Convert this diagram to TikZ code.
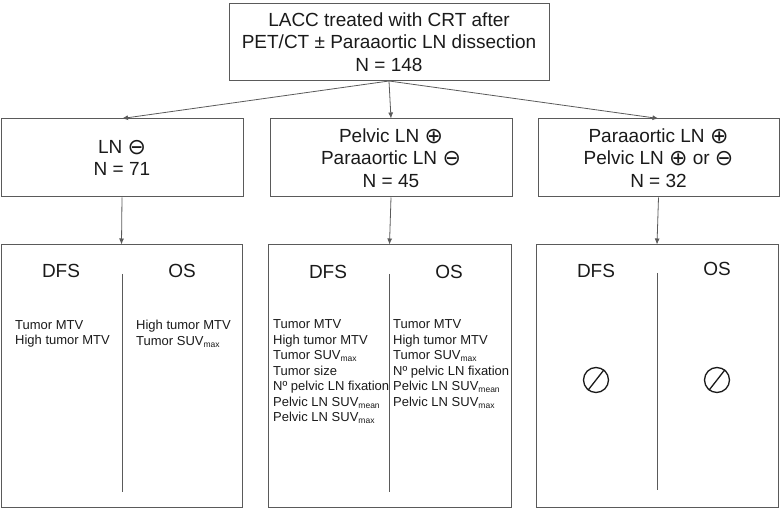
\documentclass[tikz,border=0pt]{standalone}
\usepackage{fontspec}
\setmainfont{Liberation Sans}
\newfontfamily\symfont{DejaVu Sans}
\usetikzlibrary{arrows.meta}
\definecolor{linec}{HTML}{5A5A5A}
\definecolor{textc}{HTML}{1A1A1A}
\newcommand\subs[1]{\raisebox{-0.3ex}{\fontsize{8.5}{8.5}\selectfont #1}}
\newcommand\cplus{\raisebox{-1pt}{\symfont\fontsize{22}{22}\selectfont ⊕}}
\newcommand\cminus{\raisebox{-1pt}{\symfont\fontsize{22}{22}\selectfont ⊖}}
\tikzset{
  box/.style={draw=linec, line width=1pt, align=center, text=textc, inner sep=0pt,
    font=\fontsize{19}{22.5}\selectfont},
  arr/.style={draw=linec, line width=0.8pt, -{Latex[length=6pt,width=5pt]}},
  divider/.style={draw=linec, line width=0.9pt},
  head/.style={anchor=base, text=textc, inner sep=0pt, font=\fontsize{19}{22}\selectfont},
  items/.style={anchor=north west, align=left, text=textc, inner sep=0pt,
    font=\fontsize{13}{15.5}\selectfont},
  nullset/.style={draw=textc, circle, line width=1.3pt, minimum size=25pt, inner sep=0pt}
}
\begin{document}
\begin{tikzpicture}[x=1pt,y=-1pt]
\useasboundingbox (0,0) rectangle (780,510);
% top box
\node[box, minimum width=320pt, minimum height=77pt] (top) at (389,42)
  {LACC treated with CRT after\\PET/CT ± Paraaortic LN dissection\\N = 148};
% row 2
\node[box, minimum width=242pt, minimum height=78pt] (ra) at (122,158)
  {LN \cminus\\N = 71};
\node[box, minimum width=242pt, minimum height=78pt] (rb) at (391,158)
  {Pelvic LN \cplus\\Paraaortic LN \cminus\\N = 45};
\node[box, minimum width=241pt, minimum height=78pt] (rc) at (658.5,158)
  {Paraaortic LN \cplus\\Pelvic LN \cplus{} or \cminus\\N = 32};
% row 3
\node[box, minimum width=241pt, minimum height=263pt] (sa) at (121.5,376.5) {};
\node[box, minimum width=243pt, minimum height=263pt] (sb) at (389.5,376.5) {};
\node[box, minimum width=242pt, minimum height=263pt] (sc) at (657,376.5) {};
% connectors
\draw[arr] (top.south) -- (ra.north);
\draw[arr] (top.south) -- (rb.north);
\draw[arr] (top.south) -- (rc.north);
\draw[arr] (ra.south) -- (sa.north);
\draw[arr] (rb.south) -- (sb.north);
\draw[arr] (rc.south) -- (sc.north);
% dividers
\draw[divider] (122,274) -- (122,492);
\draw[divider] (389,274) -- (389,492);
\draw[divider] (657,273) -- (657,490);
% headers
\node[head] (ha1) at (61,278) {DFS};
\node[head] (ha2) at (182,278) {OS};
\node[head] (hb1) at (328,279) {DFS};
\node[head] (hb2) at (449,279) {OS};
\node[head] (hc1) at (596,278) {DFS};
\node[head] (hc2) at (717,276) {OS};
% items
\node[items] (ia1) at (15,320) {Tumor MTV\\High tumor MTV};
\node[items] (ia2) at (136,320) {High tumor MTV\\Tumor SUV\subs{max}};
\node[items] (ib1) at (273,319.5) {Tumor MTV\\High tumor MTV\\Tumor SUV\subs{max}\\Tumor size\\Nº pelvic LN fixation\\Pelvic LN SUV\subs{mean}\\Pelvic LN SUV\subs{max}};
\node[items] (ib2) at (393,319.5) {Tumor MTV\\High tumor MTV\\Tumor SUV\subs{max}\\Nº pelvic LN fixation\\Pelvic LN SUV\subs{mean}\\Pelvic LN SUV\subs{max}};
% empty sets
\node[nullset] (n1) at (596,380) {};
\node[nullset] (n2) at (717,380) {};
\draw[draw=textc, line width=1.3pt] (n1.232) -- (n1.52);
\draw[draw=textc, line width=1.3pt] (n2.232) -- (n2.52);
\end{tikzpicture}
\end{document}
